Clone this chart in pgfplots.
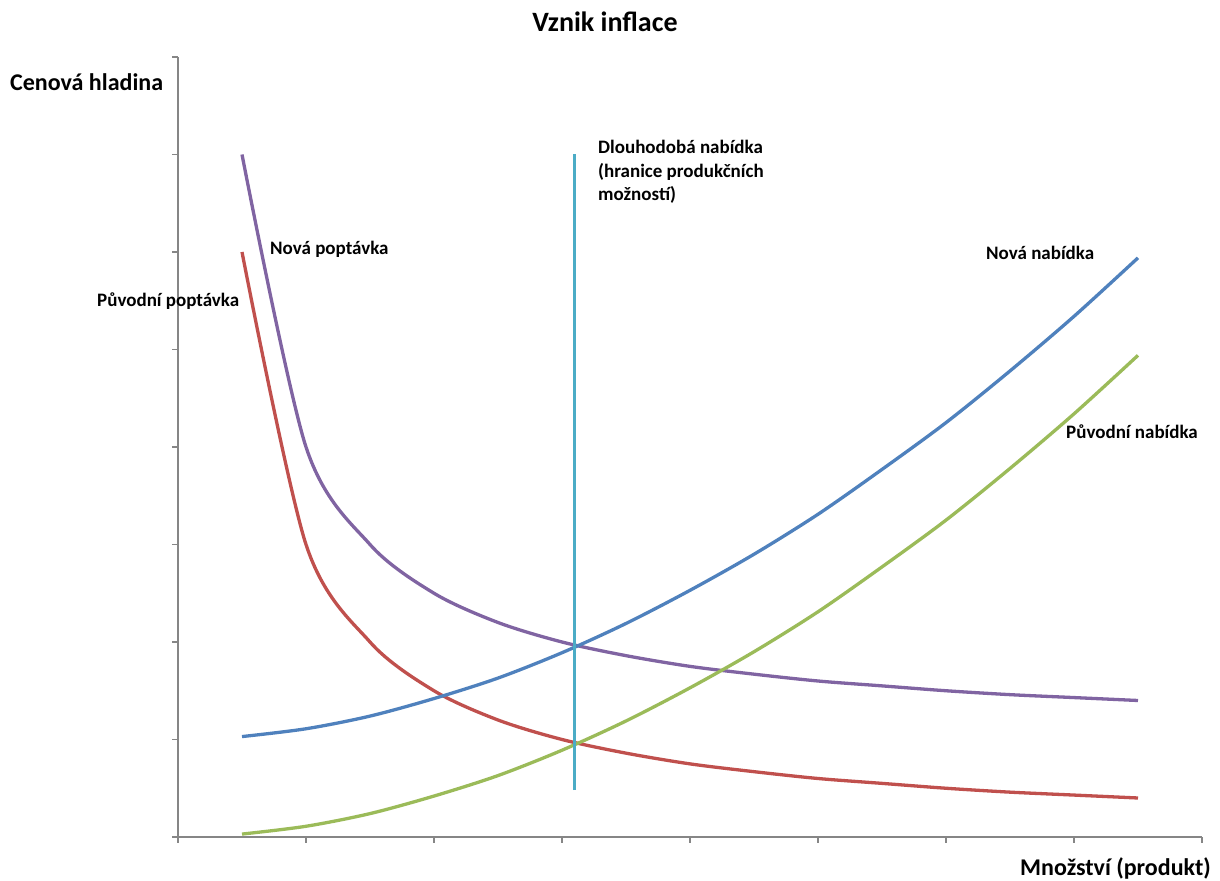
\documentclass[border=0pt]{standalone}
\usepackage{fontspec}
\setmainfont{Carlito}
\usepackage{pgfplots}
\pgfplotsset{compat=1.18}

\definecolor{exblue}{HTML}{4F81BD}
\definecolor{exred}{HTML}{C0504D}
\definecolor{exgreen}{HTML}{9BBB59}
\definecolor{expurple}{HTML}{8064A2}
\definecolor{exaqua}{HTML}{4BACC6}
\definecolor{axgray}{HTML}{868686}

% values (x = quantity, y = price level)
\pgfplotstableread{
x    puvpop  novpop  puvnab  novnab
0.5  6.00    7.00    0.03    1.03
1.0  3.00    4.00    0.11    1.11
1.5  2.00    3.00    0.24    1.24
2.0  1.50    2.50    0.42    1.42
2.5  1.20    2.20    0.63    1.63
3.0  1.00    2.00    0.89    1.89
3.5  0.86    1.86    1.19    2.19
4.0  0.75    1.75    1.53    2.53
4.5  0.67    1.67    1.90    2.90
5.0  0.60    1.60    2.31    3.31
5.5  0.55    1.55    2.77    3.77
6.0  0.50    1.50    3.25    4.25
6.5  0.46    1.46    3.78    4.78
7.0  0.43    1.43    4.34    5.34
7.5  0.40    1.40    4.94    5.94
}\curves

\begin{document}
\begin{tikzpicture}
\useasboundingbox (0,0) rectangle (1220bp,881bp);
\begin{axis}[
    at={(178bp,44bp)}, anchor=south west,
    scale only axis,
    width=1024bp, height=780bp,
    xmin=0, xmax=8, ymin=0, ymax=8,
    xtick={0,...,8}, ytick={0,...,8},
    xticklabels={}, yticklabels={},
    axis lines=left,
    axis line style={-, axgray, line width=1.2bp},
    tick style={axgray, line width=1.2bp},
    tick align=outside,
    major tick length=6bp,
    clip=false,
    every axis plot/.append style={line width=3.3bp, smooth, no marks},
]
  \addplot[exred]    table[x=x, y=puvpop] {\curves};
  \addplot[expurple] table[x=x, y=novpop] {\curves};
  \addplot[exgreen]  table[x=x, y=puvnab] {\curves};
  \addplot[exblue]   table[x=x, y=novnab] {\curves};
  % dlouhodoba nabidka
  \addplot[exaqua, sharp plot] coordinates {(3.1,0.48) (3.1,7.0)};
\end{axis}

\begin{scope}[every node/.style={inner sep=0pt, font=\bfseries}]
  \node[font=\fontsize{28bp}{32bp}\selectfont\bfseries] at (605bp,859bp) {Vznik inflace};
  \node[anchor=west, font=\fontsize{24bp}{28bp}\selectfont\bfseries] at (10bp,799bp) {Cenová hladina};
  \node[anchor=east, font=\fontsize{24bp}{28bp}\selectfont\bfseries] at (1211bp,13bp) {Množství (produkt)};
  \node[anchor=west, font=\fontsize{19bp}{23.5bp}\selectfont\bfseries] at (270bp,632bp) {Nová poptávka};
  \node[anchor=west, font=\fontsize{19bp}{23.5bp}\selectfont\bfseries] at (97bp,580bp) {Původní poptávka};
  \node[anchor=west, font=\fontsize{19bp}{23.5bp}\selectfont\bfseries] at (986bp,628bp) {Nová nabídka};
  \node[anchor=west, font=\fontsize{19bp}{23.5bp}\selectfont\bfseries] at (1066bp,449bp) {Původní nabídka};
  \node[anchor=north west, align=left, font=\fontsize{19bp}{23.5bp}\selectfont\bfseries] at (598bp,741bp)
    {Dlouhodobá nabídka\\(hranice produkčních\\možností)};
\end{scope}
\end{tikzpicture}
\end{document}
